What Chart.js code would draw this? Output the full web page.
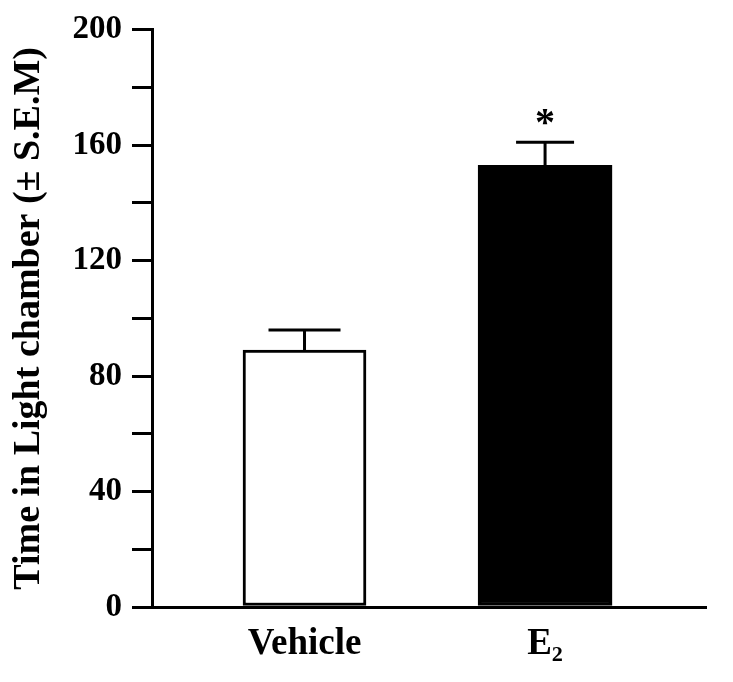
<!DOCTYPE html>
<html>
<head>
<meta charset="utf-8">
<script src="https://cdn.jsdelivr.net/npm/chart.js@4/dist/chart.umd.min.js"></script>
<style>
  html, body { margin: 0; padding: 0; background: #fff; }
  #wrap { width: 733px; height: 682px; }
</style>
</head>
<body>
<div id="wrap"><canvas id="chart" width="733" height="682"></canvas></div>
<script>
/* ---------- dados ---------- */
const categories = ['Vehicle', 'E₂'];
const means = [89, 153];          // tempo na câmara clara
const sems = [7, 8];              // erro padrão
const marks = ['', '*'];          // significância
const yTickLabels = [0, 40, 80, 120, 160, 200];

/* ---------- estilo ---------- */
const INK = '#000';
const SERIF = "'Liberation Serif', 'Times New Roman', serif";
const fills = ['#fff', '#000'];
const barWidths = [123, 134];
const capHalf = [36, 29];

/* ---------- barras de erro + asterisco ---------- */
const errorBars = {
    id: 'errorBars',
    afterDatasetsDraw(chart) {
        const { ctx, scales: { x, y } } = chart;
        ctx.save();
        ctx.strokeStyle = INK;
        ctx.fillStyle = INK;
        ctx.lineWidth = 3;
        means.forEach((m, i) => {
            const px = x.getPixelForValue(i);
            const top = y.getPixelForValue(m);
            const hi = y.getPixelForValue(m + sems[i]);
            ctx.beginPath();
            ctx.moveTo(px, top);
            ctx.lineTo(px, hi);
            ctx.moveTo(px - capHalf[i], hi);
            ctx.lineTo(px + capHalf[i], hi);
            ctx.stroke();
            if (marks[i]) {
                ctx.font = `bold 40px ${SERIF}`;
                ctx.textAlign = 'center';
                ctx.textBaseline = 'alphabetic';
                ctx.fillText(marks[i], px, hi - 7);
            }
        });
        ctx.restore();
    }
};

new Chart(document.getElementById('chart'), {
    type: 'bar',
    data: {
        datasets: categories.map((c, i) => ({
            label: c,
            data: [{ x: i, y: means[i] }],
            backgroundColor: fills[i],
            borderColor: INK,
            borderWidth: 3,
            borderSkipped: false,
            barThickness: barWidths[i]
        }))
    },
    options: {
        responsive: false,
        animation: false,
        grouped: false,
        layout: { padding: { left: 0, top: 26, right: 27, bottom: 0 } },
        plugins: { legend: { display: false }, tooltip: { enabled: false } },
        scales: {
            x: {
                type: 'linear',
                offset: false,
                min: -0.634,
                max: 1.669,
                afterBuildTicks: s => { s.ticks = categories.map((_, i) => ({ value: i })); },
                afterFit: s => { s.height = 75; },
                ticks: {
                    callback: v => categories[v],
                    font: { family: SERIF, size: 37, weight: 'bold' },
                    color: INK,
                    padding: 15,
                    autoSkip: false,
                    maxRotation: 0
                },
                grid: { display: false, drawTicks: false },
                border: { display: true, color: INK, width: 3 }
            },
            y: {
                min: 0,
                max: 200,
                afterFit: s => { s.width = 152; },
                ticks: {
                    stepSize: 20,
                    autoSkip: false,
                    callback: v => yTickLabels.includes(v) ? v : '',
                    font: { family: SERIF, size: 33, weight: 'bold' },
                    color: INK,
                    padding: 10
                },
                grid: { drawOnChartArea: false, drawTicks: true, tickLength: 20, color: INK, lineWidth: 3 },
                border: { display: true, color: INK, width: 3 },
                title: {
                    display: true,
                    text: 'Time in Light chamber (± S.E.M)',
                    font: { family: SERIF, size: 38, weight: 'bold' },
                    color: INK,
                    padding: { top: 6, bottom: 0 }
                }
            }
        }
    },
    plugins: [errorBars]
});
</script>
</body>
</html>
